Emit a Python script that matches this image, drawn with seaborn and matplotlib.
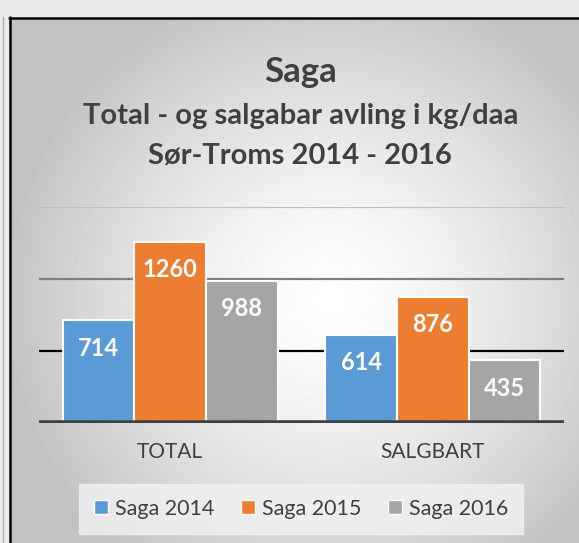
import numpy as np
import pandas as pd
import matplotlib.pyplot as plt
import seaborn as sns
from matplotlib.lines import Line2D
from matplotlib.patches import Rectangle

# data
categories = ["TOTAL", "SALGBART"]
series = ["Saga 2014", "Saga 2015", "Saga 2016"]
values = {
    "Saga 2014": [714, 614],
    "Saga 2015": [1260, 876],
    "Saga 2016": [988, 435],
}
colors = ["#5b9bd5", "#ed7d31", "#a5a5a5"]

rows = []
for s in series:
    for c, v in zip(categories, values[s]):
        rows.append({"kategori": c, "serie": s, "verdi": v})
df = pd.DataFrame(rows)

sns.set_theme(style="white")
plt.rcParams["font.family"] = ["Lato", "DejaVu Sans"]

W, H = 579, 543
fig = plt.figure(figsize=(W / 100, H / 100), dpi=100)

# radial gradient background
bg = fig.add_axes([0, 0, 1, 1], zorder=-10)
yy, xx = np.mgrid[0:H, 0:W]
r = np.sqrt(((xx - 330) / 330.0) ** 2 + ((yy - 300) / 330.0) ** 2)
shade = np.clip(1.0 - 0.24 * r ** 1.4, 0.76, 1.0)
bg.imshow(shade, cmap="gray", vmin=0, vmax=1, aspect="auto", extent=[0, W, H, 0])
bg.add_patch(Rectangle((0, 0), W, 17, color="#ebebeb", zorder=2))
bg.add_patch(Rectangle((0, 0), 9, H, color="#ebebeb", zorder=2))
bg.plot([9, W], [17.5, 17.5], color="black", lw=1.8, zorder=3)
bg.plot([9.5, 9.5], [17, H], color="black", lw=1.8, zorder=3)
bg.plot([3, 3], [17, H], color="#b0b0b0", lw=1, zorder=3)
bg.set_xlim(0, W)
bg.set_ylim(H, 0)
bg.axis("off")

ax = fig.add_axes([39 / W, 1 - 423 / H, (564 - 39) / W, (423 - 207) / H])
ax.patch.set_alpha(0)
sns.barplot(data=df, x="kategori", y="verdi", hue="serie", palette=colors,
            width=0.82, edgecolor="white", linewidth=1.5, saturation=1,
            ax=ax, zorder=3)

ax.set_ylim(0, 1500)
ax.set_xlim(-0.5, 1.5)
ax.set_yticks([0, 500, 1000, 1500])
ax.set_yticklabels([])
ax.set_xlabel("")
ax.set_ylabel("")
ax.tick_params(axis="both", length=0)
ax.tick_params(axis="x", labelsize=15, labelcolor="#404040", pad=14)
for s in ax.spines.values():
    s.set_visible(False)

grid_colors = ["#404040", "#000000", "#7f7f7f", "#c0c0c0"]
grid_widths = [4, 1.6, 1.6, 1.6]
for yv, gc, gw in zip([0, 500, 1000, 1500], grid_colors, grid_widths):
    ax.axhline(yv, color=gc, lw=gw, zorder=2 if yv else 4)

for cont in ax.containers:
    for bar in cont:
        h = bar.get_height()
        ax.text(bar.get_x() + bar.get_width() / 2, h - 195, f"{int(h)}",
                ha="center", va="center", color="white", fontsize=17,
                fontweight="bold", zorder=5)

ax.legend_.remove()
handles = [Line2D([], [], marker="s", ls="", markersize=10, markerfacecolor=c,
                  markeredgecolor="white", markeredgewidth=1) for c in colors]
leg = fig.legend(handles, series, loc="center", bbox_to_anchor=(301 / W, 1 - 509 / H),
                 ncol=3, frameon=True, fontsize=15.5, handlelength=0.7,
                 handletextpad=0.3, columnspacing=1.2, borderpad=0.7,
                 borderaxespad=0, fancybox=False)
leg.get_frame().set_facecolor("#f2f2f2")
leg.get_frame().set_edgecolor("#f2f2f2")
for t in leg.get_texts():
    t.set_color("#404040")

fig.text(301 / W, 1 - 72 / H, "Saga", ha="center", va="center",
         fontsize=25, fontweight="bold", color="#404040")
fig.text(301 / W, 1 - 116 / H, "Total - og salgabar avling i kg/daa", ha="center",
         va="center", fontsize=21, fontweight="bold", color="#404040")
fig.text(300 / W, 1 - 156 / H, "Sør-Troms 2014 - 2016", ha="center",
         va="center", fontsize=21, fontweight="bold", color="#404040")

fig.savefig("out.png", dpi=100)
